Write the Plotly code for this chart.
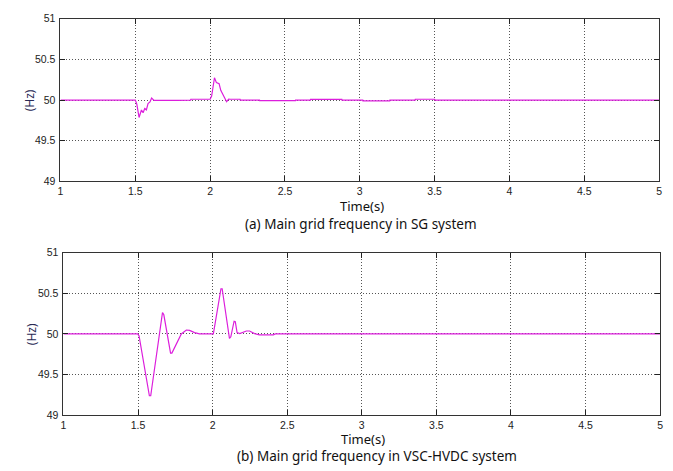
import plotly.graph_objects as go

# ---- data ----
time_sg = [1.0, 1.5, 1.51, 1.525, 1.541, 1.552, 1.563, 1.574, 1.585, 1.598, 1.609, 1.625,
           1.78, 1.87, 1.871, 2.0, 2.01, 2.029, 2.042, 2.053, 2.06, 2.071, 2.082, 2.097,
           2.11, 2.124, 2.135, 2.2, 2.201, 2.33, 2.331, 2.57, 2.571, 2.67, 2.671, 2.88,
           2.881, 3.02, 3.021, 3.2, 3.201, 3.37, 3.371, 3.5, 3.501, 5.0]
freq_sg = [50.0, 50.0, 49.95, 49.786, 49.877, 49.845, 49.897, 49.88, 49.956, 49.976, 50.024, 49.996,
           49.996, 50.0, 50.01, 50.01, 50.05, 50.274, 50.214, 50.2, 50.2, 50.12, 50.08, 50.02,
           49.98, 50.012, 50.01, 50.01, 50.0, 50.0, 49.992, 49.992, 50.0, 50.0, 50.008, 50.008,
           50.0, 50.0, 49.99, 49.99, 50.0, 50.0, 50.01, 50.01, 50.0, 50.0]

time_vsc = [1.0, 1.498, 1.507, 1.576, 1.585, 1.664, 1.673, 1.718, 1.727, 1.79, 1.824, 1.846,
            1.879, 1.912, 2.005, 2.056, 2.064, 2.113, 2.122, 2.144, 2.152, 2.164, 2.182, 2.226,
            2.248, 2.281, 2.314, 2.407, 2.42, 5.0]
freq_vsc = [50.0, 50.0, 49.976, 49.24, 49.24, 50.263, 50.235, 49.764, 49.764, 50.0, 50.048, 50.044,
            50.016, 50.0, 50.0, 50.555, 50.555, 49.944, 49.964, 50.156, 50.15, 50.016, 50.004, 50.036,
            50.036, 50.004, 49.988, 49.988, 50.0, 50.0]

x_ticks = [1, 1.5, 2, 2.5, 3, 3.5, 4, 4.5, 5]
x_tick_labels = ["1", "1.5", "2", "2.5", "3", "3.5", "4", "4.5", "5"]
y_ticks = [49, 49.5, 50, 50.5, 51]
y_tick_labels = ["49", "49.5", "50", "50.5", "51"]

x_title = "Time(s)"
y_title = "(Hz)"
caption_a = "(a) Main grid frequency in SG system"
caption_b = "(b) Main grid frequency in VSC-HVDC system"

W, H = 673, 471
LINE_COLOR = "#dc1edc"
TICK_FONT = dict(family="Liberation Sans Narrow, Liberation Sans, Arial", size=10.5, color="#222")
CAP_FONT = dict(family="Noto Sans, Open Sans", size=13.5, color="#111")
XT_FONT = dict(family="Noto Sans, Open Sans", size=13, color="#111")

fig = go.Figure()
fig.add_trace(go.Scatter(x=time_sg, y=freq_sg, mode="lines", xaxis="x", yaxis="y",
                         line=dict(color=LINE_COLOR, width=1.2), showlegend=False))
fig.add_trace(go.Scatter(x=time_vsc, y=freq_vsc, mode="lines", xaxis="x2", yaxis="y2",
                         line=dict(color=LINE_COLOR, width=1.2), showlegend=False))

GRID = dict(showgrid=True, gridcolor="#555", griddash="1px,2px", gridwidth=1)

def xax(domain, anchor):
    return dict(domain=domain, anchor=anchor, range=[1, 5], tickvals=x_ticks, ticktext=x_tick_labels,
                ticks="inside", ticklen=5, tickcolor="#222", tickwidth=1, mirror="ticks",
                showline=True, linecolor="#333", linewidth=1, zeroline=False, tickfont=TICK_FONT,
                ticklabelstandoff=0, **GRID)

def yax(domain, anchor):
    return dict(domain=domain, anchor=anchor, range=[49, 51], tickvals=y_ticks, ticktext=y_tick_labels,
                ticks="inside", ticklen=5, tickcolor="#222", tickwidth=1, mirror="ticks",
                showline=True, linecolor="#333", linewidth=1, zeroline=False, tickfont=TICK_FONT,
                ticklabelstandoff=2, **GRID)

fig.update_layout(
    width=W, height=H, margin=dict(l=0, r=0, t=0, b=0),
    paper_bgcolor="white", plot_bgcolor="white",
    xaxis=xax([58 / W, 662 / W], "y"),
    yaxis=yax([1 - 180 / H, 1 - 13 / H], "x"),
    xaxis2=xax([61 / W, 663 / W], "y2"),
    yaxis2=yax([1 - 420 / H, 1 - 253 / H], "x2"),
    showlegend=False,
)

def ann(text, x, y, font, angle=0):
    fig.add_annotation(text=text, x=x / W, y=1 - y / H, xref="paper", yref="paper",
                       showarrow=False, font=font, textangle=angle, xanchor="center", yanchor="middle",
                       borderpad=0)

YT_FONT = dict(family="Noto Sans, Open Sans", size=12, color="#2a2a55")
ann(y_title, 27, 97, YT_FONT, -90)
ann(y_title, 29, 337, YT_FONT, -90)
ann(x_title, 362, 205, XT_FONT)
ann(x_title, 363, 444.5, XT_FONT)
ann(caption_a, 361, 223.5, CAP_FONT)
ann(caption_b, 377, 462, CAP_FONT)

fig.write_html(
    "out.html",
    config={"displayModeBar": False},
    post_script="document.body.style.margin='0';document.body.style.padding='0';"
                "document.documentElement.style.overflow='hidden';document.body.style.overflow='hidden';",
)
